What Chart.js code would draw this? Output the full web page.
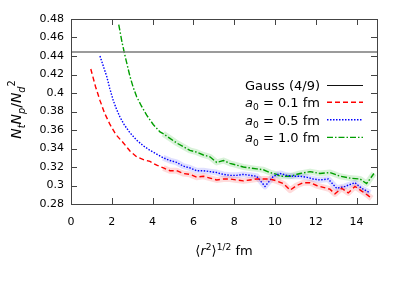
<!DOCTYPE html>
<html>
<head>
<meta charset="utf-8">
<script src="https://cdn.jsdelivr.net/npm/chart.js@4.4.0/dist/chart.umd.min.js"></script>
<style>
  html, body { margin: 0; padding: 0; background: #fff; }
</style>
</head>
<body>
<canvas id="chart" width="399" height="282"></canvas>
<script>
// valores
const gaussValue = 4 / 9;

const xA01 = [0.97, 1.2, 1.42, 1.65, 1.91, 2.2, 2.57, 2.9, 3.22, 3.55, 3.87, 4.2, 4.53, 4.85, 5.18, 5.5, 5.83, 6.16, 6.49, 6.81, 7.14, 7.47, 7.79, 8.12, 8.45, 8.77, 9.1, 9.43, 9.75, 10.08, 10.41, 10.74, 11.06, 11.39, 11.72, 12.04, 12.37, 12.69, 12.94, 13.27, 13.59, 13.92, 14.25, 14.57, 14.74];
const yA01 = [0.426, 0.407, 0.392, 0.378, 0.366, 0.355, 0.346, 0.337, 0.331, 0.328, 0.326, 0.322, 0.319, 0.316, 0.316, 0.313, 0.312, 0.309, 0.310, 0.308, 0.306, 0.307, 0.307, 0.306, 0.305, 0.306, 0.307, 0.307, 0.307, 0.305, 0.302, 0.295, 0.300, 0.303, 0.303, 0.300, 0.298, 0.296, 0.291, 0.297, 0.292, 0.299, 0.294, 0.289, 0.286];

const xA05 = [1.42, 1.6, 1.75, 1.9, 2.07, 2.24, 2.4, 2.6, 2.89, 3.22, 3.54, 3.87, 4.2, 4.52, 4.85, 5.18, 5.5, 5.83, 6.16, 6.49, 6.81, 7.14, 7.47, 7.79, 8.12, 8.45, 8.77, 9.1, 9.51, 9.92, 10.25, 10.57, 10.9, 11.23, 11.55, 11.88, 12.2, 12.61, 13.02, 13.43, 13.92, 14.25, 14.66];
const yA05 = [0.440, 0.428, 0.418, 0.405, 0.392, 0.382, 0.374, 0.366, 0.357, 0.349, 0.343, 0.338, 0.334, 0.330, 0.327, 0.325, 0.321, 0.319, 0.316, 0.316, 0.315, 0.314, 0.312, 0.311, 0.311, 0.312, 0.311, 0.310, 0.299, 0.310, 0.313, 0.311, 0.310, 0.310, 0.309, 0.307, 0.306, 0.307, 0.297, 0.299, 0.303, 0.297, 0.292];

const xA10 = [2.34, 2.5, 2.65, 2.89, 3.05, 3.22, 3.45, 3.71, 4.03, 4.36, 4.52, 4.85, 5.18, 5.5, 5.83, 6.16, 6.49, 6.81, 7.14, 7.47, 7.79, 8.12, 8.45, 8.77, 9.1, 9.43, 9.75, 10.08, 10.25, 10.74, 11.23, 11.72, 12.2, 12.7, 13.19, 13.67, 14.17, 14.49, 14.85];
const yA10 = [0.474, 0.455, 0.440, 0.418, 0.406, 0.396, 0.386, 0.376, 0.366, 0.358, 0.356, 0.351, 0.346, 0.342, 0.338, 0.336, 0.333, 0.331, 0.325, 0.327, 0.324, 0.322, 0.320, 0.319, 0.318, 0.317, 0.314, 0.312, 0.310, 0.310, 0.313, 0.315, 0.313, 0.314, 0.310, 0.308, 0.307, 0.302, 0.313];

const xTicks = [0, 2, 4, 6, 8, 10, 12, 14];
const yTicks = [0.28, 0.30, 0.32, 0.34, 0.36, 0.38, 0.40, 0.42, 0.44, 0.46, 0.48];

const FONT = '"DejaVu Sans", sans-serif';

function toPoints(xs, ys) {
    return xs.map((x, i) => ({ x: x, y: ys[i] }));
}

// texto con cursiva, subindices y superindices
function richWidth(ctx, parts, size) {
    let w = 0;
    parts.forEach(p => {
        const s = (p.sub || p.sup) ? size * 0.7 : size;
        ctx.font = (p.it ? 'italic ' : '') + s + 'px ' + FONT;
        w += ctx.measureText(p.t).width;
    });
    return w;
}

function drawRich(ctx, parts, x, y, size, align) {
    const w = richWidth(ctx, parts, size);
    let cx = align === 'right' ? x - w : align === 'center' ? x - w / 2 : x;
    ctx.textAlign = 'left';
    ctx.textBaseline = 'alphabetic';
    parts.forEach(p => {
        const s = (p.sub || p.sup) ? size * 0.7 : size;
        ctx.font = (p.it ? 'italic ' : '') + s + 'px ' + FONT;
        let dy = 0;
        if (p.sub) dy = size * 0.25;
        if (p.sup) dy = -size * 0.42;
        ctx.fillText(p.t, cx, y + dy);
        cx += ctx.measureText(p.t).width;
    });
}

const series = [
    { label: [{ t: 'a', it: true }, { t: '0', sub: true }, { t: ' = 0.1 fm' }], xs: xA01, ys: yA01, color: '#ff0000', band: 'rgba(255,0,0,0.14)', dash: [5, 3] },
    { label: [{ t: 'a', it: true }, { t: '0', sub: true }, { t: ' = 0.5 fm' }], xs: xA05, ys: yA05, color: '#0000ff', band: 'rgba(0,0,255,0.12)', dash: [1.5, 1.5] },
    { label: [{ t: 'a', it: true }, { t: '0', sub: true }, { t: ' = 1.0 fm' }], xs: xA10, ys: yA10, color: '#009e00', band: 'rgba(0,170,0,0.15)', dash: [6, 2, 1.5, 2] }
];

const datasets = [];
datasets.push({
    data: [{ x: 0, y: gaussValue }, { x: 15, y: gaussValue }],
    borderColor: '#7a7a7a', borderWidth: 1.5, pointRadius: 0
});
series.forEach(s => {
    datasets.push({
        data: toPoints(s.xs, s.ys),
        borderColor: s.color, borderWidth: 1.4, borderDash: s.dash,
        pointRadius: 0, tension: 0
    });
});
// bandas de error (linea ancha translucida detras)
series.forEach(s => {
    datasets.push({
        data: toPoints(s.xs, s.ys),
        borderColor: s.band, borderWidth: 6, pointRadius: 0, tension: 0,
        borderJoinStyle: 'round',
        segment: { borderColor: c => c.p0.parsed.x < 4.5 ? 'rgba(0,0,0,0)' : s.band }
    });
});

const framePlugin = {
    id: 'frame',
    afterDraw(chart) {
        const ctx = chart.ctx;
        const a = chart.chartArea;
        const xs = chart.scales.x, ys = chart.scales.y;
        ctx.save();
        ctx.strokeStyle = '#444';
        ctx.lineWidth = 1;
        ctx.strokeRect(Math.round(a.left) + 0.5, Math.round(a.top) + 0.5, Math.round(a.right - a.left), Math.round(a.bottom - a.top));
        ctx.beginPath();
        xTicks.forEach(v => {
            const px = Math.round(xs.getPixelForValue(v)) + 0.5;
            ctx.moveTo(px, a.bottom); ctx.lineTo(px, a.bottom - 6);
            ctx.moveTo(px, a.top); ctx.lineTo(px, a.top + 6);
        });
        yTicks.forEach(v => {
            const py = Math.round(ys.getPixelForValue(v)) + 0.5;
            ctx.moveTo(a.left, py); ctx.lineTo(a.left + 6, py);
            ctx.moveTo(a.right, py); ctx.lineTo(a.right - 6, py);
        });
        ctx.stroke();

        // leyenda
        ctx.fillStyle = '#000';
        const textRight = 320, l0 = 327, l1 = 363;
        const rows = [89.5, 107.2, 124.8, 142.4];
        drawRich(ctx, [{ t: 'Gauss (4/9)' }], textRight, rows[0], 13, 'right');
        ctx.strokeStyle = '#111'; ctx.lineWidth = 1; ctx.setLineDash([]);
        ctx.beginPath(); ctx.moveTo(l0, 85.5); ctx.lineTo(l1, 85.5); ctx.stroke();
        series.forEach((s, i) => {
            const by = rows[i + 1];
            ctx.fillStyle = '#000';
            drawRich(ctx, s.label, textRight, by, 13, 'right');
            ctx.strokeStyle = s.color; ctx.lineWidth = 1.4; ctx.setLineDash(s.dash);
            ctx.beginPath(); ctx.moveTo(l0, by - 5); ctx.lineTo(l1, by - 5); ctx.stroke();
        });
        ctx.setLineDash([]);

        // titulos de los ejes
        ctx.fillStyle = '#000';
        drawRich(ctx, [{ t: '\u27E8' }, { t: 'r', it: true }, { t: '2', sup: true }, { t: '\u27E9' }, { t: '1/2', sup: true }, { t: ' fm' }],
            (a.left + a.right) / 2, 255, 13, 'center');
        ctx.translate(21, (a.top + a.bottom) / 2 - 2);
        ctx.rotate(-Math.PI / 2);
        drawRich(ctx, [{ t: 'N', it: true }, { t: 't', it: true, sub: true }, { t: 'N', it: true }, { t: 'p', it: true, sub: true },
            { t: '/' }, { t: 'N', it: true }, { t: 'd', it: true, sub: true }, { t: '2', sup: true }], 0, 0, 14, 'center');
        ctx.restore();
    }
};

new Chart(document.getElementById('chart'), {
    type: 'line',
    data: { datasets: datasets },
    options: {
        responsive: false,
        animation: false,
        devicePixelRatio: 1,
        layout: { padding: { left: 0, right: 22, top: 19, bottom: 0 } },
        plugins: { legend: { display: false }, tooltip: { enabled: false } },
        scales: {
            x: {
                type: 'linear', min: 0, max: 15,
                afterBuildTicks: s => { s.ticks = xTicks.map(v => ({ value: v })); },
                afterFit: s => { s.height = 78; },
                grid: { display: false, drawTicks: false },
                border: { display: false },
                ticks: { color: '#000', font: { family: FONT, size: 11 }, padding: 12, maxRotation: 0 }
            },
            y: {
                type: 'linear', min: 0.28, max: 0.48,
                afterBuildTicks: s => { s.ticks = yTicks.map(v => ({ value: v })); },
                afterFit: s => { s.width = 71; },
                grid: { display: false, drawTicks: false },
                border: { display: false },
                ticks: { color: '#000', font: { family: FONT, size: 11 }, padding: 7,
                    callback: v => String(+v.toFixed(2)) }
            }
        }
    },
    plugins: [framePlugin]
});
</script>
</body>
</html>
